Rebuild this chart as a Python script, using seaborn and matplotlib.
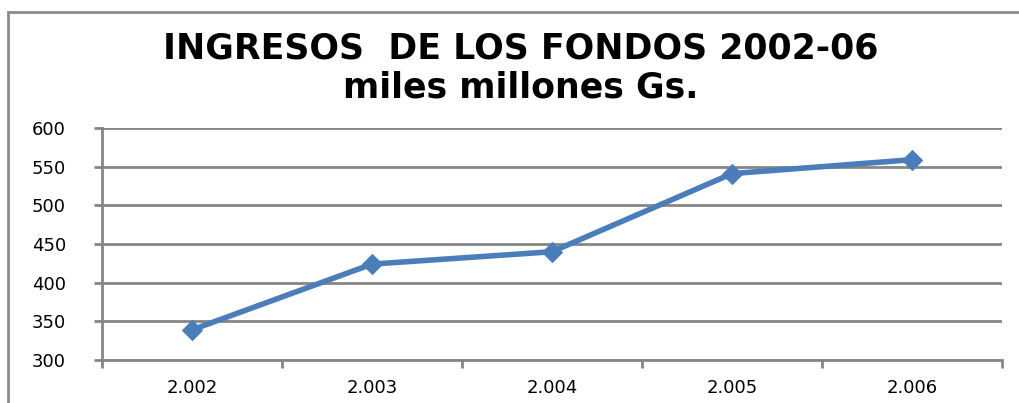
import matplotlib
matplotlib.use("Agg")
import matplotlib.pyplot as plt
import seaborn as sns
import pandas as pd
from matplotlib.patches import Rectangle
from matplotlib.ticker import FixedLocator

years = ["2.002", "2.003", "2.004", "2.005", "2.006"]
ingresos = [339, 424, 440, 541, 559]
y_ticks = [300, 350, 400, 450, 500, 550, 600]
title_text = "INGRESOS  DE LOS FONDOS 2002-06\nmiles millones Gs."

sns.set_style("white")
plt.rcParams['font.family'] = ['DejaVu Sans']
plt.rcParams['text.color'] = 'black'
plt.rcParams['xtick.color'] = 'black'
plt.rcParams['ytick.color'] = 'black'

df = pd.DataFrame({"year": years, "value": ingresos})

fig = plt.figure(figsize=(10.19, 4.03), dpi=100)
ax = fig.add_axes([0.1001, 0.1067, 0.8832, 0.5757])

grey = "#868686"
sns.lineplot(data=df, x="year", y="value", ax=ax, sort=False, color="#4a7ebb",
             linewidth=4, marker="D", markersize=10, markeredgecolor="#4a7ebb",
             zorder=5)

ax.set_xlim(-0.5, len(years) - 0.5)
ax.set_ylim(300, 600)
ax.set_yticks(y_ticks)
ax.yaxis.grid(True, color=grey, linewidth=2)
ax.xaxis.grid(False)
ax.set_xlabel("")
ax.set_ylabel("")

for s in ["top", "right"]:
    ax.spines[s].set_visible(False)
for s in ["left", "bottom"]:
    ax.spines[s].set_color(grey)
    ax.spines[s].set_linewidth(2)

ax.tick_params(axis="y", which="major", length=6, width=2, color=grey,
               labelsize=13, labelcolor="black", pad=20, left=True)
ax.tick_params(axis="x", which="major", length=0, labelsize=13,
               labelcolor="black", pad=14)
ax.xaxis.set_minor_locator(FixedLocator([i - 0.5 for i in range(len(years) + 1)]))
ax.tick_params(axis="x", which="minor", length=6, width=2, color=grey, bottom=True)

fig.text(0.511, 0.832, title_text, ha="center", va="center", fontsize=25,
         fontweight="bold", linespacing=1.2, color="black")

border = Rectangle((8 / 1019, -0.1), 1.2, 1 - 12 / 403 + 0.1, transform=fig.transFigure,
                   fill=False, edgecolor="#8c8c8c", linewidth=2)
fig.patches.append(border)

fig.savefig("out.png", dpi=100)
